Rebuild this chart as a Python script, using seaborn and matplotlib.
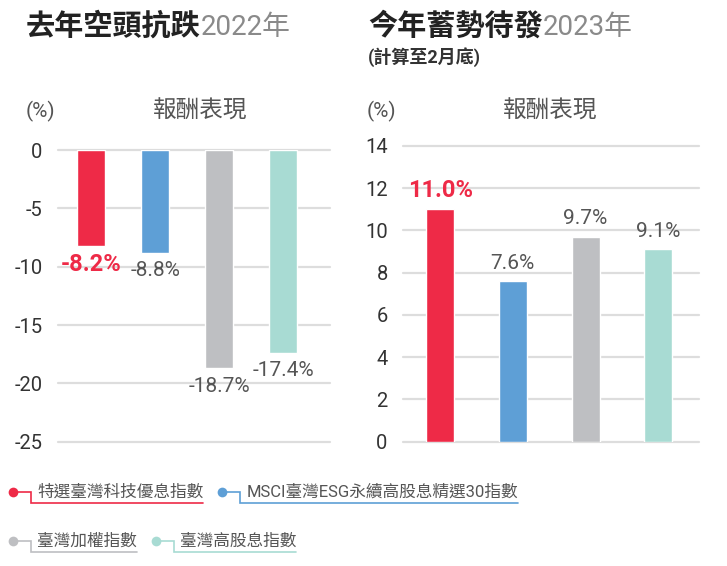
import matplotlib
matplotlib.use('Agg')
import matplotlib.pyplot as plt
import seaborn as sns
import pandas as pd

# ---------------- data ----------------
categories = ['特選臺灣科技優息指數', 'MSCI臺灣ESG永續高股息精選30指數', '臺灣加權指數', '臺灣高股息指數']
returns_2022 = [-8.2, -8.8, -18.7, -17.4]
returns_2023 = [11.0, 7.6, 9.7, 9.1]
colors = ['#EE2A47', '#5E9FD6', '#BEBFC2', '#A8DBD3']
ticks_2022 = [0, -5, -10, -15, -20, -25]
ticks_2023 = [0, 2, 4, 6, 8, 10, 12, 14]

sns.set_theme(style='white')
plt.rcParams['font.family'] = ['Roboto', 'Noto Sans CJK TC', 'DejaVu Sans']
plt.rcParams['axes.unicode_minus'] = False

W, H = 727, 566
fig = plt.figure(figsize=(W / 100, H / 100), dpi=100)


def fr(x0, y_top, x1, y_bot):
    return [x0 / W, 1 - y_bot / H, (x1 - x0) / W, (y_bot - y_top) / H]


ax1 = fig.add_axes(fr(58, 150, 330, 441.7))
ax2 = fig.add_axes(fr(403, 146, 699, 441.7))

df1 = pd.DataFrame({'cat': categories, 'val': returns_2022})
df2 = pd.DataFrame({'cat': categories, 'val': returns_2023})
sns.barplot(data=df1, x='cat', y='val', hue='cat', palette=colors, width=0.44,
            saturation=1, legend=False, ax=ax1)
sns.barplot(data=df2, x='cat', y='val', hue='cat', palette=colors, width=0.385,
            saturation=1, legend=False, ax=ax2)

for ax, ticks in ((ax1, ticks_2022), (ax2, ticks_2023)):
    ax.set_yticks(ticks)
    ax.set_yticklabels([str(t) for t in ticks])
    ax.set_xticks([])
    ax.set_xlabel('')
    ax.set_ylabel('')
    sns.despine(ax=ax, left=True, bottom=True)
    ax.grid(axis='y', color='#DDDDDD', lw=1.6)
    ax.set_axisbelow(True)
    ax.tick_params(axis='y', length=0, pad=11, labelsize=14.5, labelcolor='#333333')
    for gl in ax.get_ygridlines():
        gl.set_clip_on(False)

ax1.set_ylim(-25, 0)
ax1.set_xlim(-0.52, 3.73)
ax2.set_ylim(0, 14)
ax2.set_xlim(-0.51, 3.56)


def label(ax, vals):
    for i, (c, v) in enumerate(zip(ax.containers, vals)):
        txt = f'{v:.1f}%'
        if i == 0:
            ax.bar_label(c, labels=[txt], padding=5, fontsize=17,
                         fontweight='bold', color=colors[0])
        else:
            ax.bar_label(c, labels=[txt], padding=6, fontsize=15, color='#555555')


label(ax1, returns_2022)
label(ax2, returns_2023)

# ---------------- overlay for titles / legend ----------------
ov = fig.add_axes([0, 0, 1, 1])
ov.set_xlim(0, W)
ov.set_ylim(H, 0)
ov.axis('off')

t1 = ov.text(26, 35, '去年空頭抗跌', fontsize=21, fontweight='bold', color='#222222',
             va='baseline', ha='left')
t2 = ov.text(368, 35, '今年蓄勢待發', fontsize=21, fontweight='bold', color='#222222',
             va='baseline', ha='left')
ov.text(368, 57, '(計算至2月底)', fontsize=13, fontweight='bold', color='#333333',
        va='center', ha='left')

for x in (26, 367):
    ov.text(x, 111, '(%)', fontsize=15, color='#555555', va='center', ha='left')
ov.text(200, 111, '報酬表現', fontsize=17, color='#555555', va='center', ha='center')
ov.text(550, 111, '報酬表現', fontsize=17, color='#555555', va='center', ha='center')

fig.canvas.draw()
inv = ov.transData.inverted()
for t, yr in ((t1, '2022年'), (t2, '2023年')):
    bb = t.get_window_extent()
    x_end = inv.transform((bb.x1, 0))[0]
    ov.text(x_end, 35, yr, fontsize=20, color='#8A8A8A', va='baseline', ha='left')

# legend
rows = [[0, 1], [2, 3]]
row_y = [492, 541]
for r, idxs in enumerate(rows):
    x = 13
    dy = row_y[r]
    uy = dy + 11
    for i in idxs:
        dot_x = x
        corner_x = dot_x + 18
        text_x = corner_x + 6
        t = ov.text(text_x, dy, categories[i], fontsize=12, color='#555555',
                    va='center', ha='left')
        fig.canvas.draw()
        bb = t.get_window_extent()
        x_end = inv.transform((bb.x1, 0))[0]
        ov.plot([dot_x, corner_x, corner_x, x_end], [dy, dy, uy, uy],
                color=colors[i], lw=1.2, solid_joinstyle='miter')
        ov.plot([dot_x], [dy], 'o', ms=7, color=colors[i], mec='none')
        x = x_end + 19

fig.savefig('out.png', dpi=100)
